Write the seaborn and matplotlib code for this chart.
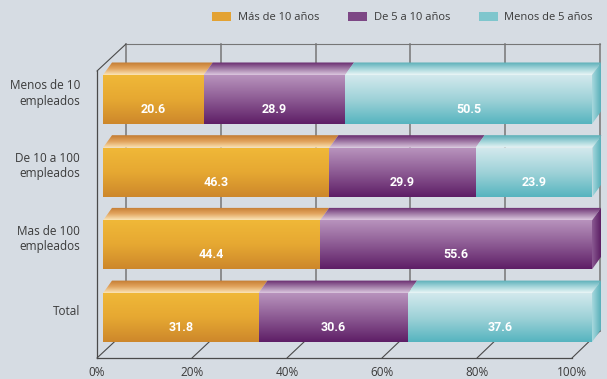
import numpy as np
import matplotlib
matplotlib.use("Agg")
import matplotlib.pyplot as plt
from matplotlib.colors import LinearSegmentedColormap
from matplotlib.patches import Polygon, Patch, ConnectionPatch
import seaborn as sns

# data
categories = ["Menos de 10\nempleados", "De 10 a 100\nempleados", "Mas de 100\nempleados", "Total"]
series_names = ["Más de 10 años", "De 5 a 10 años", "Menos de 5 años"]
mas_de_10 = [20.6, 46.3, 44.4, 31.8]
de_5_a_10 = [28.9, 29.9, 55.6, 30.6]
menos_de_5 = [50.5, 23.9, 0.0, 37.6]
x_ticks = [0, 20, 40, 60, 80, 100]

W, H = 607, 379
BG = "#d6dce3"
TEXT = "#3a3a3a"
GRID = "#767676"
EDGE = "#4a4a4a"

# gradient stops: front face (top -> bottom), top face (back -> front), side face (left -> right)
styles = [
    dict(front=["#f0b838", "#e6a832", "#cd872b"], top=["#c27a30", "#e2a45e", "#fbe6b8"],
         side=["#e0a040", "#b87428"], legend="#e3a233"),
    dict(front=["#b893bd", "#8c5a93", "#5e1e66"], top=["#66286c", "#a07aa6", "#dcc8df"],
         side=["#8a5a92", "#5c1e64"], legend="#7d4785"),
    dict(front=["#d3e9ed", "#9ed2d8", "#55b4bf"], top=["#58aeb7", "#a4d5da", "#ebf6f7"],
         side=["#a9d9de", "#58b0ba"], legend="#7fc6cd"),
]

plt.rcParams["font.family"] = ["Open Sans", "DejaVu Sans"]

fig = plt.figure(figsize=(W / 100, H / 100), dpi=100, facecolor=BG)


def px_axes(left, top, right, bottom, **kw):
    return fig.add_axes([left / W, 1 - bottom / H, (right - left) / W, (bottom - top) / H], **kw)


# back wall of the 3D box
back = px_axes(126, 44, 600, 331, zorder=0)
back.set_facecolor("none")
back.set_xlim(0, 100)
back.set_ylim(0, 1)
for s in ["left", "right", "bottom"]:
    back.spines[s].set_visible(False)
back.spines["top"].set_color(GRID)
back.set_xticks([])
back.set_yticks([])
for v in x_ticks:
    back.axvline(v, color=GRID, lw=1.1, clip_on=False)

# floor / left wall with the percent scale
floor = px_axes(97, 71, 572, 358, zorder=1)
floor.set_facecolor("none")
floor.set_xlim(0, 100)
floor.set_ylim(0, 1)
for s in ["top", "right"]:
    floor.spines[s].set_visible(False)
for s in ["left", "bottom"]:
    floor.spines[s].set_color(EDGE)
    floor.spines[s].set_linewidth(0.9)
floor.set_yticks([])
floor.set_xticks(x_ticks)
floor.set_xticklabels([f"{v}%" for v in x_ticks], fontsize=8.5, color=TEXT)
floor.tick_params(axis="x", length=0, pad=6)
for v in x_ticks:
    con = ConnectionPatch(xyA=(v, 0), coordsA=floor.transData, xyB=(v, 0), coordsB=back.transData,
                          color=EDGE, lw=0.8)
    floor.add_artist(con)
con = ConnectionPatch(xyA=(0, 1), coordsA=floor.transData, xyB=(0, 1), coordsB=back.transData,
                      color=EDGE, lw=0.8)
floor.add_artist(con)

# the bars, front plane: 0..100 spans x=103..592, axes run on to the right edge for the side faces
ax = px_axes(103, 44, 607, 358, zorder=3)
ax.set_facecolor("none")
xmax = 100 * (607 - 103) / (592 - 103)

bar_h = 49 / 72.7
series = [mas_de_10, de_5_a_10, menos_de_5]
lefts = np.zeros(len(categories))
containers = []
for vals, st in zip(series, styles):
    sns.barplot(x=vals, y=categories, orient="h", left=lefts, color=st["legend"],
                width=bar_h, linewidth=0, ax=ax)
    containers.append(ax.containers[-1])
    lefts = lefts + np.array(vals)

ax.axis("off")

ddx = 9 * 100 / (592 - 103)
ddy = 12.5 / 72.7


def gradient_fill(colors, extent, clip, horizontal=False, z=4):
    cmap = LinearSegmentedColormap.from_list("g", colors)
    g = np.linspace(0, 1, 256)
    arr = g[np.newaxis, :] if horizontal else g[:, np.newaxis]
    im = ax.imshow(arr, cmap=cmap, extent=extent, aspect="auto", origin="upper",
                   interpolation="bilinear", zorder=z)
    im.set_clip_path(clip)


for k, (bars, st) in enumerate(zip(containers, styles)):
    for i, rect in enumerate(bars):
        w = rect.get_width()
        if w <= 0:
            continue
        x0, y0, h = rect.get_x(), rect.get_y(), rect.get_height()
        x1 = x0 + w
        rect.set_alpha(0)
        # front face
        front = Polygon([(x0, y0), (x1, y0), (x1, y0 + h), (x0, y0 + h)], closed=True,
                        fill=False, lw=0)
        ax.add_patch(front)
        gradient_fill(st["front"], (x0, x1, y0 + h, y0), front)
        # top face
        top = Polygon([(x0, y0), (x1, y0), (x1 + ddx, y0 - ddy), (x0 + ddx, y0 - ddy)],
                      closed=True, fill=False, lw=0)
        ax.add_patch(top)
        gradient_fill(st["top"], (x0, x1 + ddx, y0, y0 - ddy), top)
        # side face on the last visible segment
        later = [s[i] for s in series[k + 1:]]
        if sum(later) == 0:
            side = Polygon([(x1, y0), (x1 + ddx, y0 - ddy), (x1 + ddx, y0 + h - ddy), (x1, y0 + h)],
                           closed=True, fill=False, lw=0)
            ax.add_patch(side)
            gradient_fill(st["side"], (x1, x1 + ddx, y0 + h, y0 - ddy), side, horizontal=True)
        # value label
        ax.annotate(f"{w:.1f}", xy=(x0 + w / 2, i), xytext=(0, -10), textcoords="offset pixels",
                    ha="center", va="center", color="white", fontsize=9, fontweight="bold",
                    family=["Roboto", "DejaVu Sans"], zorder=6)

# category labels to the left of the bars
for i, cat in enumerate(categories):
    ax.annotate(cat, xy=(0, i), xycoords=("axes fraction", "data"), xytext=(-23, 6),
                textcoords="offset pixels", ha="right", va="center", fontsize=8.5,
                color=TEXT, linespacing=1.25, annotation_clip=False)

ax.set_xlim(0, xmax)
ax.set_ylim((358 - 99.5) / 72.7, (44 - 99.5) / 72.7)

handles = [Patch(facecolor=st["legend"], edgecolor="none") for st in styles]
fig.legend(handles, series_names, loc="upper right", bbox_to_anchor=(603 / W, 1 - 2 / H),
           ncol=3, frameon=False, fontsize=8, handlelength=1.7, handleheight=0.9,
           handletextpad=0.6, columnspacing=2.6, labelcolor=TEXT)

fig.savefig("out.png", dpi=100, facecolor=BG)
